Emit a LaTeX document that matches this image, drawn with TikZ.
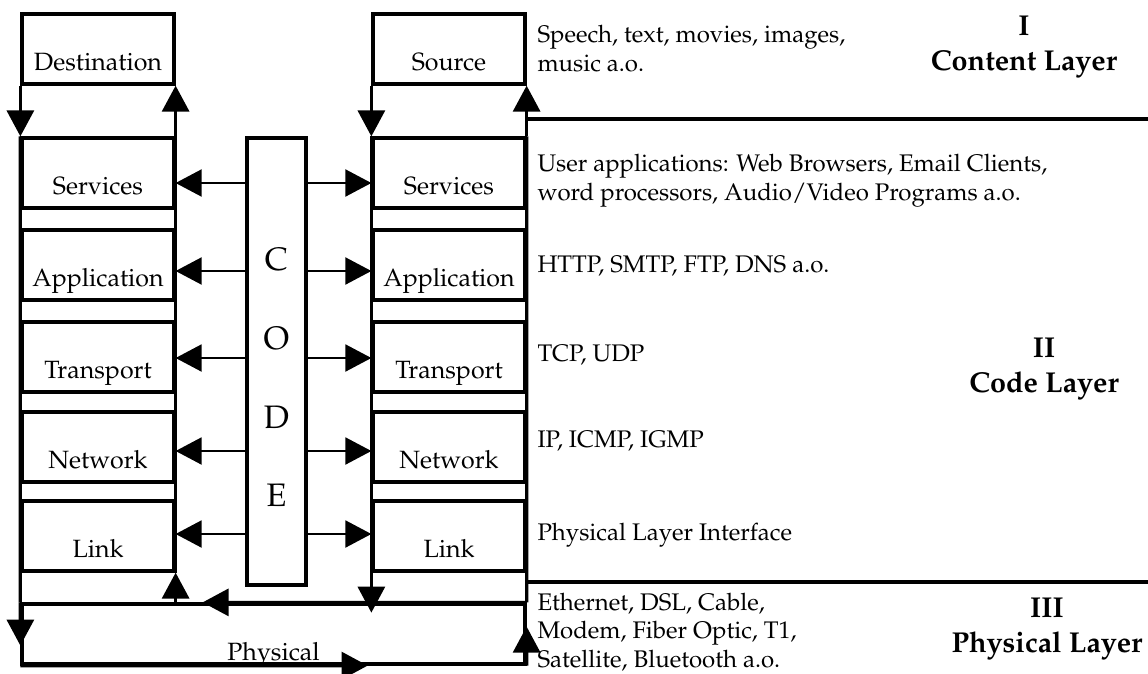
\documentclass[tikz,border=0pt]{standalone}
\usepackage[T1]{fontenc}
\usepackage{mathpazo}
\usetikzlibrary{arrows.meta,calc,positioning}

\begin{document}
\begin{tikzpicture}[
    x=0.4pt, y=-0.4pt,
    layer/.style={draw,line width=1.3pt,fill=white,minimum width=60.8pt,minimum height=28pt,
      inner sep=0pt,text height=17pt,text depth=0pt,font=\fontsize{10}{12}\selectfont},
    frame/.style={draw,line width=1.3pt,inner sep=0pt},
    rail/.style={line width=1.3pt},
    tip/.style={-{Triangle[length=10.4pt,width=10.8pt]}},
    railarrow/.style={rail,tip},
    conn/.style={line width=0.8pt,tip},
    sep/.style={line width=1.7pt},
    desc/.style={anchor=base west,inner sep=0pt,align=left,font=\fontsize{9.6}{11.4}\selectfont},
    title/.style={anchor=base,inner sep=0pt,align=center,font=\fontsize{11.5}{14}\selectfont\bfseries}
  ]
  \useasboundingbox (0,0) rectangle (1148,674);

  % the two stacks
  \node[layer] (dest) at (98,49) {Destination};
  \node[layer] (src) at (449,49) {Source};
  \foreach \n/\t/\y in {serv/Services/173,app/Application/265,trans/Transport/357,net/Network/447,link/Link/536} {
    \node[layer] (\n-l) at (98,\y) {\t};
    \node[layer] (\n-r) at (449,\y) {\t};
  }

  % code column in the middle
  \node[frame,minimum width=23.6pt,minimum height=178.8pt] (code) at (276.5,361.5) {};
  \node[inner sep=0pt,align=center,font=\fontsize{13}{31.5}\selectfont] (codetxt)
    at ([yshift=-6.4pt]code.center) {C\\O\\D\\E};

  \foreach \n/\dy in {serv/10,app/6,trans/1,net/4,link/-2} {
    \draw[conn] ($(code.west |- \n-l.east)+(0,\dy)$) -- ($(\n-l.east)+(0,\dy)$);
    \draw[conn] ($(code.east |- \n-r.west)+(0,\dy)$) -- ($(\n-r.west)+(0,\dy)$);
  }

  % physical medium below
  \node[frame,minimum width=201.2pt,minimum height=24pt] (phys) at (273.5,634) {};
  \node[anchor=base,inner sep=0pt,font=\fontsize{10}{12}\selectfont] (physlbl)
    at ([yshift=2pt]phys.south) {Physical};

  % rails
  \draw[rail] (serv-l.north west) -- (phys.north west);
  \draw[rail] (serv-l.north east) -- (link-l.south east);
  \draw[rail] (serv-r.north west) -- (link-r.south west);
  \draw[rail] (serv-r.north east) -- (phys.north east);

  \draw[railarrow] (dest.south west) -- (serv-l.north west);
  \draw[railarrow] (serv-l.north east) -- (dest.south east);
  \draw[railarrow] (src.south west) -- (serv-r.north west);
  \draw[railarrow] (serv-r.north east) -- (src.south east);

  \draw[railarrow] (link-l.south east |- phys.north) -- (link-l.south east);
  \draw[railarrow] (link-r.south west) -- ($(link-r.south west)+(0,40)$);
  \draw[railarrow] (phys.north east) -- ($(phys.north west)!0.36!(phys.north east)$);
  \draw[railarrow] (phys.south west) -- ($(phys.south west)!0.686!(phys.south east)$);
  \draw[railarrow] (phys.north west) -- ($(phys.north west)!0.683!(phys.south west)$);
  \draw[railarrow] (phys.south east) -- ($(phys.south east)!0.617!(phys.north east)$);

  % layer separators
  \coordinate (edgeA) at (1148,119);
  \coordinate (edgeB) at (1148,582);
  \draw[sep] (src.east |- edgeA) -- (edgeA);
  \draw[sep] (src.east |- edgeB) -- (edgeB);

  % descriptions (base = last line)
  \node[desc] (dsrc) at (537,71) {Speech, text, movies, images,\\music a.o.};
  \node[desc] (dserv) at (537,200) {User applications: Web Browsers, Email Clients,\\word processors, Audio/Video Programs a.o.};
  \node[desc] (dapp) at (537,272) {HTTP, SMTP, FTP, DNS a.o.};
  \node[desc] (dtrans) at (537,361) {TCP, UDP};
  \node[desc] (dnet) at (537,447) {IP, ICMP, IGMP};
  \node[desc] (dlink) at (537,540) {Physical Layer Interface};
  \node[desc] (dphys) at (537,667) {Ethernet, DSL, Cable,\\Modem, Fiber Optic, T1,\\Satellite, Bluetooth a.o.};

  \node[title] (tcontent) at (1024,70) {I\\Content Layer};
  \node[title] (tcode) at (1044,392) {II\\Code Layer};
  \node[title] (tphys) at (1047,652) {III\\Physical Layer};
\end{tikzpicture}
\end{document}
